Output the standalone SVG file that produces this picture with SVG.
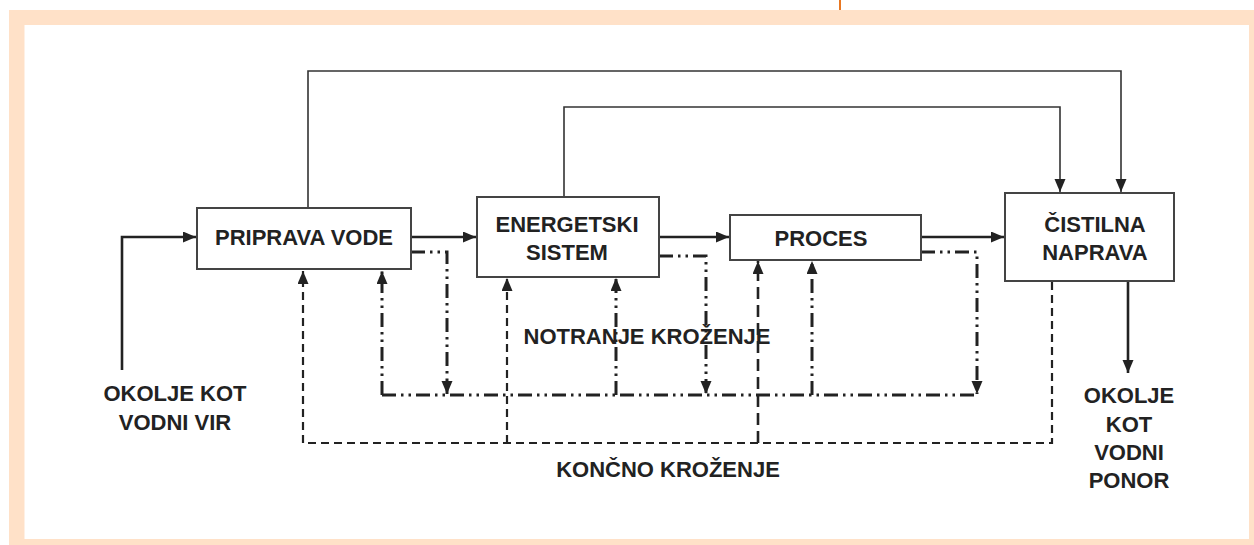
<svg xmlns="http://www.w3.org/2000/svg" width="1254" height="545" viewBox="0 0 1254 545">
<defs>
<style>
.box{fill:#fff;stroke:#444;stroke-width:2}
.t{font-family:"Liberation Sans",Arial,sans-serif;font-weight:bold;font-size:22px;fill:#222;text-anchor:middle}
.thin{fill:none;stroke:#333;stroke-width:1.6}
.main{fill:none;stroke:#222;stroke-width:2.6}
.dd{fill:none;stroke:#222;stroke-width:3;stroke-dasharray:14 5 2.5 5 2.5 5}
.ds{fill:none;stroke:#222;stroke-width:2.2;stroke-dasharray:8 5}
</style>
<marker id="ah" markerUnits="userSpaceOnUse" markerWidth="14" markerHeight="12" refX="13" refY="5.5" orient="auto" viewBox="0 0 14 12">
<path d="M0,0 L13,5.5 L0,11 z" fill="#222"/>
</marker>
</defs>
<rect x="0" y="0" width="1254" height="545" fill="#fff"/>
<rect x="9" y="10" width="1245" height="535" fill="#ffe1c8"/>
<rect x="24.5" y="25" width="1224.5" height="514" fill="#fff"/>
<line x1="840" y1="0" x2="840" y2="10" stroke="#e87722" stroke-width="2"/>

<g id="connectors">
<polyline class="thin" points="308,208 308,71 1121,71 1121,192" marker-end="url(#ah)"/>
<polyline class="thin" points="564,197 564,107 1060,107 1060,192" marker-end="url(#ah)"/>
<polyline class="main" points="122,370 122,237 196,237" marker-end="url(#ah)"/>
<line class="main" x1="411" y1="237" x2="476" y2="237" marker-end="url(#ah)"/>
<line class="main" x1="659" y1="237" x2="729" y2="237" marker-end="url(#ah)"/>
<line class="main" x1="921" y1="237" x2="1004" y2="237" marker-end="url(#ah)"/>
<line class="main" x1="1128" y1="281" x2="1128" y2="373" marker-end="url(#ah)"/>
<polyline class="dd" points="411,252 447,252 447,394" marker-end="url(#ah)"/>
<polyline class="dd" points="659,256 706,256 706,394" marker-end="url(#ah)"/>
<polyline class="dd" points="921,252 977,252 977,394" marker-end="url(#ah)"/>
<line class="dd" x1="382" y1="395" x2="978" y2="395"/>
<line class="dd" x1="382" y1="395" x2="382" y2="271" marker-end="url(#ah)"/>
<line class="dd" x1="616" y1="395" x2="616" y2="278" marker-end="url(#ah)"/>
<line class="dd" x1="812" y1="395" x2="812" y2="261" marker-end="url(#ah)"/>
<polyline class="ds" points="1052,282 1052,443 303,443 303,271" marker-end="url(#ah)"/>
<line class="ds" x1="507" y1="443" x2="507" y2="278" marker-end="url(#ah)"/>
<line class="ds" x1="758" y1="443" x2="758" y2="261" style="stroke-width:2.6;stroke-dasharray:12 6" marker-end="url(#ah)"/>
</g>

<g id="priprava">
<rect class="box" x="197" y="208" width="214" height="61"/>
<text class="t" x="304" y="245">PRIPRAVA VODE</text>
</g>
<g id="energetski">
<rect class="box" x="477" y="197" width="182" height="80"/>
<text class="t" x="567" y="232">ENERGETSKI</text>
<text class="t" x="567" y="260">SISTEM</text>
</g>
<g id="proces">
<rect class="box" x="730" y="215" width="191" height="45"/>
<text class="t" x="821" y="246">PROCES</text>
</g>
<g id="cistilna">
<rect class="box" x="1005" y="193" width="169" height="88"/>
<text class="t" x="1095" y="232">ČISTILNA</text>
<text class="t" x="1095" y="260">NAPRAVA</text>
</g>
<g id="vir">
<text class="t" x="175" y="401">OKOLJE KOT</text>
<text class="t" x="175" y="430">VODNI VIR</text>
</g>
<g id="ponor">
<text class="t" x="1129" y="403">OKOLJE</text>
<text class="t" x="1129" y="432">KOT</text>
<text class="t" x="1129" y="460">VODNI</text>
<text class="t" x="1129" y="488">PONOR</text>
</g>
<g id="labels">
<text class="t" x="647" y="344">NOTRANJE KROŽENJE</text>
<text class="t" x="668" y="477">KONČNO KROŽENJE</text>
</g>
</svg>
